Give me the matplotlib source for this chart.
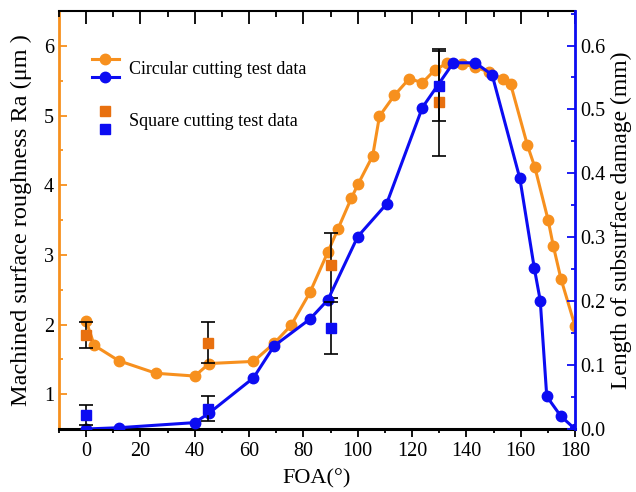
"""Rugosidade e dano subsuperficial em função do FOA."""

import matplotlib

matplotlib.use("Agg")
import matplotlib.pyplot as plt
from matplotlib.legend_handler import HandlerBase
from matplotlib.lines import Line2D
from matplotlib.ticker import FormatStrFormatter, MultipleLocator
from matplotlib.transforms import Affine2D

# circular cutting test data (left axis, Ra)
circ_foa_ra = [0, 3, 12, 25.7, 40, 45.3, 61.6, 69.2, 75.5, 82.4, 89, 92.7, 97.6,
               100.2, 105.5, 108, 113.5, 119, 123.8, 128.3, 132.8, 138.5, 143,
               148.5, 153.5, 156.3, 162.5, 165.2, 170.1, 172, 174.8, 180]
circ_ra = [2.05, 1.70, 1.48, 1.30, 1.26, 1.44, 1.47, 1.73, 1.99, 2.46, 3.04, 3.37,
           3.81, 4.02, 4.42, 4.99, 5.29, 5.53, 5.47, 5.65, 5.75, 5.74, 5.70, 5.62,
           5.52, 5.45, 4.57, 4.26, 3.50, 3.13, 2.66, 1.98]

# circular cutting test data (right axis, subsurface damage)
circ_foa_ssd = [0, 12, 40, 45.3, 61.6, 69.2, 82.4, 89, 100, 110.6, 123.8, 135.2,
                143.3, 149.5, 159.7, 165, 167.2, 169.6, 174.8, 180]
circ_ssd = [0.0, 0.002, 0.010, 0.025, 0.080, 0.130, 0.172, 0.202, 0.301, 0.352,
            0.503, 0.573, 0.573, 0.554, 0.392, 0.252, 0.201, 0.051, 0.020, 0.0]

# square cutting test data
sq_foa = [0, 45, 90, 130]
sq_ra = [1.85, 1.74, 2.85, 5.19]
sq_ra_err = [0.19, 0.29, 0.47, 0.77]
sq_ssd = [0.022, 0.032, 0.158, 0.537]
sq_ssd_err = [0.016, 0.019, 0.040, 0.055]

ORANGE = "#f7901e"
ORANGE_SQ = "#e8700f"
BLUE = "#0c0cf2"


class HandlerStack(HandlerBase):
    """Desenha os handles de uma tupla empilhados verticalmente."""

    def __init__(self, gap=6.5):
        super().__init__()
        self.gap = gap

    def create_artists(self, legend, orig_handle, xdescent, ydescent, width,
                       height, fontsize, trans):
        artists = []
        n = len(orig_handle)
        for i, handle in enumerate(orig_handle):
            offset = ((n - 1) / 2 - i) * self.gap * 2
            handler = legend.get_legend_handler(legend.get_legend_handler_map(), handle)
            shifted = Affine2D().translate(0, offset) + trans
            artists.extend(handler.create_artists(legend, handle, xdescent, ydescent,
                                                  width, height, fontsize, shifted))
        return artists


plt.rcParams["font.family"] = ["Liberation Serif", "DejaVu Serif"]

fig = plt.figure(figsize=(6.36, 4.92), dpi=100)
ax = fig.add_axes([59 / 636, 1 - 429 / 492, 516 / 636, 418 / 492])
ax2 = ax.twinx()

ax.errorbar(sq_foa, sq_ra, yerr=sq_ra_err, fmt="none", ecolor="black",
            elinewidth=1.2, capsize=5, capthick=1.2, zorder=3)
ax.plot(circ_foa_ra, circ_ra, "-o", color=ORANGE, lw=2.2, ms=7.5, zorder=2)
ax.plot(sq_foa, sq_ra, "s", color=ORANGE_SQ, ms=6.5, zorder=4)

ax2.errorbar(sq_foa, sq_ssd, yerr=sq_ssd_err, fmt="none", ecolor="black",
             elinewidth=1.2, capsize=5, capthick=1.2, zorder=3)
ax2.plot(circ_foa_ssd, circ_ssd, "-o", color=BLUE, lw=2.2, ms=7.5, zorder=2)
ax2.plot(sq_foa, sq_ssd, "s", color=BLUE, ms=6.5, zorder=4)

ax.set_xlim(-10, 180)
ax.set_ylim(0.5, 6.5)
ax2.set_ylim(0, 0.654)

for axis in (ax.xaxis, ax2.xaxis):
    axis.set_major_locator(MultipleLocator(20))
    axis.set_minor_locator(MultipleLocator(10))
ax.yaxis.set_major_locator(MultipleLocator(1))
ax.yaxis.set_minor_locator(MultipleLocator(0.5))
ax2.yaxis.set_major_locator(MultipleLocator(0.1))
ax2.yaxis.set_minor_locator(MultipleLocator(0.05))
ax2.yaxis.set_major_formatter(FormatStrFormatter("%.1f"))

ax.spines["top"].set_linewidth(1.5)
ax.spines["bottom"].set_linewidth(2.2)
ax.spines["left"].set_color(ORANGE)
ax.spines["left"].set_linewidth(2)
ax2.spines["left"].set_visible(False)
ax2.spines["bottom"].set_visible(False)
ax2.spines["top"].set_visible(False)
ax2.spines["right"].set_color(BLUE)
ax2.spines["right"].set_linewidth(2)

# ticks de baixo para fora, ticks do topo para dentro (via eixo x do twin)
ax.tick_params(axis="x", which="both", direction="out", top=False,
               labelsize=14.5, width=1.3)
ax.tick_params(axis="x", which="major", length=6)
ax.tick_params(axis="x", which="minor", length=3)
ax2.xaxis.set_visible(True)
ax2.tick_params(axis="x", which="both", direction="in", top=True, bottom=False,
                labeltop=False, labelbottom=False, width=1.3)
ax2.tick_params(axis="x", which="major", length=9)
ax2.tick_params(axis="x", which="minor", length=4)

ax.tick_params(axis="y", which="both", direction="in", colors=ORANGE,
               labelcolor="black", labelsize=14.5, width=1.3)
ax.tick_params(axis="y", which="major", length=6)
ax.tick_params(axis="y", which="minor", length=3)
ax2.tick_params(axis="y", which="both", direction="in", colors=BLUE,
                labelcolor="black", labelsize=14.5, width=1.3)
ax2.tick_params(axis="y", which="major", length=6)
ax2.tick_params(axis="y", which="minor", length=3)

ax.set_xlabel("FOA(°)", fontsize=16, labelpad=6)
ax.set_ylabel("Machined surface roughness Ra (μm )", fontsize=17.5, labelpad=9)
ax2.set_ylabel("Length of subsurface damage (mm)", fontsize=17, labelpad=4)

circ_handles = (
    Line2D([], [], color=ORANGE, marker="o", lw=2.2, ms=7.5),
    Line2D([], [], color=BLUE, marker="o", lw=2.2, ms=7.5),
)
sq_handles = (
    Line2D([], [], color=ORANGE_SQ, marker="s", ls="none", ms=6.5),
    Line2D([], [], color=BLUE, marker="s", ls="none", ms=6.5),
)
ax2.legend([circ_handles, sq_handles],
           ["Circular cutting test data", "Square cutting test data"],
           handler_map={tuple: HandlerStack()}, loc="upper left",
           bbox_to_anchor=(0.035, 0.915), frameon=False, fontsize=13,
           handlelength=1.55, labelspacing=1.95, handletextpad=0.5,
           borderpad=0.3)

fig.savefig("out.png", dpi=100)
